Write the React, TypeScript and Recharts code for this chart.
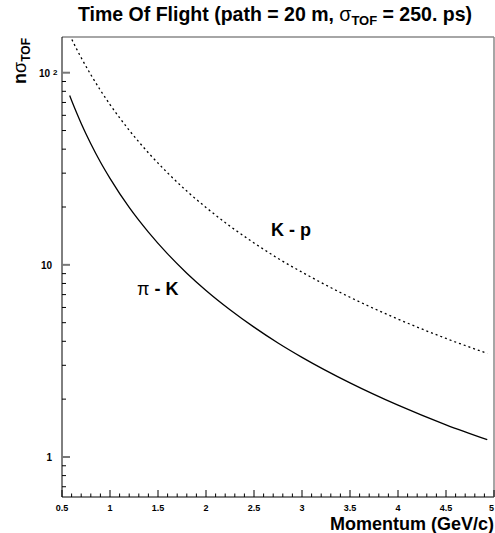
import React from 'react';
import { LineChart, Line, XAxis, YAxis } from 'recharts';

const momentum = [0.58, 0.6, 0.65, 0.7, 0.8, 0.9, 1.0, 1.2, 1.4, 1.6, 1.8, 2.0, 2.25, 2.5, 2.75, 3.0, 3.5, 4.0, 4.5, 4.93];
const piK = [76.0, 71.6, 62.2, 54.4, 42.7, 34.3, 28.2, 19.9, 14.8, 11.4, 9.05, 7.36, 5.84, 4.74, 3.92, 3.30, 2.43, 1.86, 1.47, 1.23];
const kP = [157, 149.8, 133.5, 119.7, 97.7, 81.1, 68.3, 50.2, 38.3, 30.1, 24.2, 19.9, 15.9, 13.0, 10.8, 9.16, 6.78, 5.22, 4.14, 3.46];

const xTicks = [0.5, 0.6, 0.7, 0.8, 0.9, 1.0, 1.1, 1.2, 1.3, 1.4, 1.5, 1.6, 1.7, 1.8, 1.9, 2.0, 2.1, 2.2, 2.3, 2.4, 2.5, 2.6, 2.7, 2.8, 2.9, 3.0, 3.1, 3.2, 3.3, 3.4, 3.5, 3.6, 3.7, 3.8, 3.9, 4.0, 4.1, 4.2, 4.3, 4.4, 4.5, 4.6, 4.7, 4.8, 4.9, 5.0];
const xMajor = [0.5, 1, 1.5, 2, 2.5, 3, 3.5, 4, 4.5, 5];
const xMajorLabels = ['0.5', '1', '1.5', '2', '2.5', '3', '3.5', '4', '4.5', '5'];
const yTicks = [0.7, 0.8, 0.9, 1, 2, 3, 4, 5, 6, 7, 8, 9, 10, 20, 30, 40, 50, 60, 70, 80, 90, 100];
const yMajor = [1, 10, 100];

const data = momentum.map((p, i) => ({ p, piK: piK[i], kP: kP[i] }));

const FONT = '"Liberation Sans", Arial, Helvetica, sans-serif';
const TICK_SIZE = 2;
const X_MARGIN = 12;
const Y_MARGIN = 8;

const near = (a: number, b: number) => Math.abs(a - b) < 1e-6;

const renderXTick = (props: any) => {
  const { x, y, payload } = props;
  const v = payload.value;
  const axisY = y - X_MARGIN - TICK_SIZE;
  const idx = xMajor.findIndex((m) => near(m, v));
  const isMajor = idx >= 0;
  const isLast = idx === xMajor.length - 1;
  return (
    <g>
      <line x1={x} x2={x} y1={axisY} y2={axisY - (isMajor ? 7 : 3.5)} stroke="#000" strokeWidth={1} />
      {isMajor && (
        <text
          x={isLast ? x : x}
          y={axisY + 13.5}
          textAnchor={isLast ? 'end' : 'middle'}
          fontFamily={FONT}
          fontWeight="bold"
          fontSize={9}
          fill="#000"
        >
          {xMajorLabels[idx]}
        </text>
      )}
    </g>
  );
};

const renderYTick = (props: any) => {
  const { x, y, payload } = props;
  const v = payload.value;
  const axisX = x + Y_MARGIN + TICK_SIZE;
  const isMajor = yMajor.some((m) => near(m, v));
  return (
    <g>
      <line
        x1={axisX}
        x2={axisX + (isMajor ? 8 : 4)}
        y1={y}
        y2={y}
        stroke={isMajor ? '#777' : '#000'}
        strokeWidth={isMajor ? 2 : 1}
      />
      {isMajor && near(v, 100) && (
        <g>
          <text x={axisX - 12} y={y + 4} textAnchor="end" fontFamily={FONT} fontWeight="bold" fontSize={10} fill="#000">10</text>
          <text x={axisX - 9} y={y + 2} textAnchor="start" fontFamily={FONT} fontWeight="bold" fontSize={8} fill="#000">2</text>
        </g>
      )}
      {isMajor && !near(v, 100) && (
        <text x={axisX - 10} y={y + 4} textAnchor="end" fontFamily={FONT} fontWeight="bold" fontSize={10} fill="#000">
          {near(v, 10) ? '10' : '1'}
        </text>
      )}
    </g>
  );
};

export default function App() {
  return (
    <div style={{ position: 'absolute', left: 0, top: 0, width: 495, height: 533, background: '#fff' }}>
      <LineChart
        width={495}
        height={533}
        data={data}
        margin={{ top: 36, right: 0, bottom: 6, left: 0 }}
      >
        <XAxis
          xAxisId="bottom"
          dataKey="p"
          type="number"
          orientation="bottom"
          domain={[0.5, 5]}
          ticks={xTicks}
          interval={0}
          height={30}
          tickSize={TICK_SIZE}
          tickLine={false}
          tickMargin={X_MARGIN}
          tick={renderXTick}
          axisLine={{ stroke: '#000', strokeWidth: 1 }}
          allowDataOverflow
        />
        <XAxis
          xAxisId="top"
          orientation="top"
          type="number"
          domain={[0.5, 5]}
          height={1}
          tick={false}
          tickLine={false}
          axisLine={{ stroke: '#888', strokeWidth: 1.5 }}
        />
        <YAxis
          yAxisId="left"
          type="number"
          scale="log"
          domain={[0.619, 153.4]}
          allowDataOverflow
          ticks={yTicks}
          interval={0}
          width={62}
          tickSize={TICK_SIZE}
          tickLine={false}
          tickMargin={Y_MARGIN}
          tick={renderYTick}
          axisLine={{ stroke: '#000', strokeWidth: 1 }}
        />
        <YAxis
          yAxisId="right"
          orientation="right"
          type="number"
          domain={[0, 1]}
          width={1}
          tick={false}
          tickLine={false}
          axisLine={{ stroke: '#888', strokeWidth: 1.5 }}
        />
        <Line
          xAxisId="bottom"
          yAxisId="left"
          type="monotone"
          dataKey="piK"
          stroke="#000"
          strokeWidth={1.3}
          dot={false}
          isAnimationActive={false}
        />
        <Line
          xAxisId="bottom"
          yAxisId="left"
          type="monotone"
          dataKey="kP"
          stroke="#000"
          strokeWidth={1.3}
          strokeDasharray="2 3"
          dot={false}
          isAnimationActive={false}
        />
      </LineChart>
      <svg
        width={495}
        height={533}
        style={{ position: 'absolute', left: 0, top: 0, pointerEvents: 'none' }}
        fontFamily={FONT}
      >
        <text x={275} y={21} textAnchor="middle" fontWeight="bold" fontSize={19.5} fill="#000">
          Time Of Flight (path = 20 m, <tspan fontWeight="normal">σ</tspan>
          <tspan dy={4} fontSize={13}>TOF</tspan>
          <tspan dy={-4}> = 250. ps)</tspan>
        </text>
        <text transform="translate(26,38) rotate(-90)" textAnchor="end" fontWeight="bold" fontSize={18} fill="#000">
          n<tspan fontWeight="normal">σ</tspan>
          <tspan dy={4} fontSize={12}>TOF</tspan>
        </text>
        <text x={494} y={530} textAnchor="end" fontWeight="bold" fontSize={18} fill="#000">
          Momentum (GeV/c)
        </text>
        <text x={271} y={236} fontWeight="bold" fontSize={18} fill="#000">
          K - p
        </text>
        <text x={137} y={295} fontWeight="bold" fontSize={18} fill="#000">
          <tspan fontWeight="normal">π</tspan> - K
        </text>
      </svg>
    </div>
  );
}
